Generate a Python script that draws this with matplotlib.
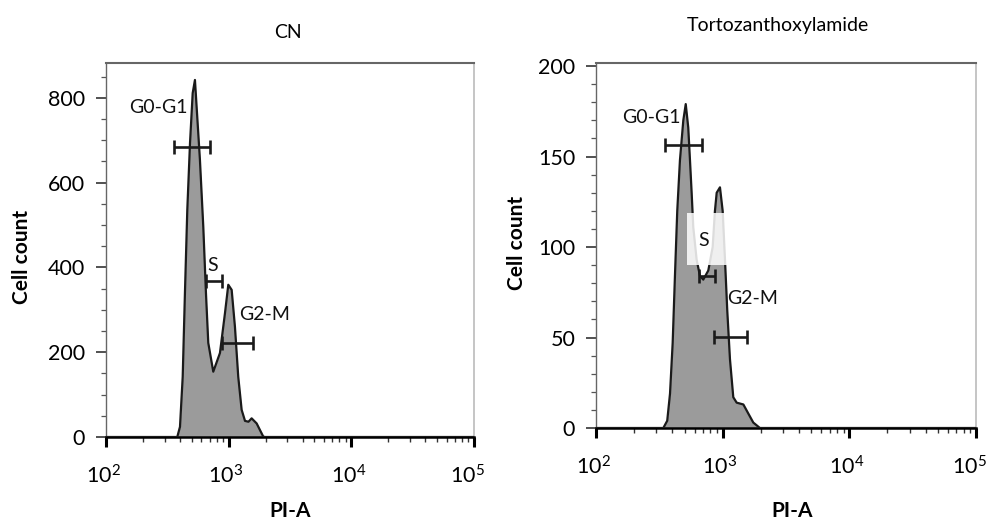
import matplotlib
matplotlib.use("Agg")
import matplotlib.pyplot as plt
from matplotlib.ticker import LogLocator, LogFormatterSciNotation, MultipleLocator, NullFormatter
from matplotlib.transforms import ScaledTranslation

plt.rcParams['font.family'] = ['Lato', 'DejaVu Sans']
plt.rcParams['mathtext.fontset'] = 'custom'
plt.rcParams['mathtext.rm'] = 'Lato'
plt.rcParams['mathtext.it'] = 'Lato:italic'
plt.rcParams['mathtext.bf'] = 'Lato:bold'

# ---------------- data ----------------
titles = ["CN", "Tortozanthoxylamide"]
x_label = "PI-A"
y_label = "Cell count"

# Control (CN) histogram
cn_pi = [100, 381, 401, 422, 440, 460, 484, 509, 531, 583, 621, 653, 682, 749,
         849, 933, 993, 1058, 1125, 1197, 1276, 1359, 1450, 1539, 1691, 1914, 1977, 100000]
cn_count = [0, 0, 24, 142, 339, 536, 693, 811, 842, 654, 496, 339, 222, 154,
            198, 292, 359, 347, 260, 142, 64, 38, 36, 44, 32, 1, 0, 0]

# Treated histogram
tz_pi = [100, 340, 365, 384, 403, 420, 438, 460, 489, 511, 535, 552, 569, 586, 623,
         662, 703, 770, 834, 869, 897, 952, 1000, 1043, 1087, 1142, 1213, 1290,
         1457, 1594, 1745, 1968, 100000]
tz_count = [0, 0, 4, 19, 47, 84, 120, 148, 170, 179, 166, 148, 130, 111, 93,
            84, 82, 87, 100, 120, 130, 133, 120, 93, 65, 38, 17, 14,
            13, 8, 3, 0, 0]

gate_names = ["G0-G1", "S", "G2-M"]
# gate ranges (PI-A) and heights (count)
cn_gate_lo = [358, 653, 877]
cn_gate_hi = [705, 877, 1585]
cn_gate_y = [683, 368, 221]
cn_lab_x = [266, 745, 1977]
cn_lab_y = [776, 404, 290]

tz_gate_lo = [351, 653, 859]
tz_gate_hi = [690, 869, 1564]
tz_gate_y = [156.4, 84, 50.4]
tz_lab_x = [275, 703, 1726]
tz_lab_y = [171.6, 103.5, 71.7]

cn_yticks = [0, 200, 400, 600, 800]
tz_yticks = [0, 50, 100, 150, 200]

# ---------------- figure ----------------
fig = plt.figure(figsize=(9.87, 5.23), dpi=100)
axL = fig.add_axes([106/987, 1-437/523, 368/987, 374/523])
axR = fig.add_axes([596/987, 1-428/523, 380/987, 365/523])

fill_c = '#9b9b9b'
line_c = '#1a1a1a'


def style(ax, ymax, yticks, yminor):
    ax.set_xscale('log')
    ax.set_xlim(100, 100000)
    ax.set_ylim(0, ymax)
    ax.set_yticks(yticks)
    ax.yaxis.set_minor_locator(MultipleLocator(yminor))
    ax.xaxis.set_major_locator(LogLocator(base=10, numticks=10))
    ax.xaxis.set_major_formatter(LogFormatterSciNotation())
    ax.xaxis.set_minor_locator(LogLocator(base=10, subs=range(2, 10), numticks=20))
    ax.xaxis.set_minor_formatter(NullFormatter())
    ax.tick_params(axis='y', which='major', length=7, width=1.2, color='#333333',
                   labelsize=15.5, pad=8)
    ax.tick_params(axis='y', which='minor', length=3.5, width=0.9, color='#555555')
    ax.tick_params(axis='x', which='major', length=7.5, width=2.2, color='black',
                   labelsize=15.5, pad=12)
    ax.tick_params(axis='x', which='minor', length=3.5, width=1.0, color='#333333')
    ax.spines['bottom'].set_color('black')
    ax.spines['bottom'].set_linewidth(1.8)
    ax.spines['top'].set_color('#666666')
    ax.spines['top'].set_linewidth(1.5)
    ax.spines['left'].set_color('#666666')
    ax.spines['left'].set_linewidth(1.0)
    ax.spines['right'].set_color('#bbbbbb')
    ax.spines['right'].set_linewidth(1.2)


def gates(ax, lo, hi, yv, lx, ly, names):
    for a, b, y in zip(lo, hi, yv):
        ax.plot([a, b], [y, y], color=line_c, lw=1.9, solid_capstyle='butt', zorder=5)
        ax.plot([a, b], [y, y], ls='none', marker='|', markersize=10,
                markeredgewidth=1.9, color=line_c, zorder=5)
    for x, y, n in zip(lx, ly, names):
        ax.text(x, y, n, ha='center', va='center', fontsize=14, color='#111111', zorder=6)


# Left panel
axL.fill_between(cn_pi, cn_count, 0, color=fill_c, lw=0, zorder=2)
axL.plot(cn_pi, cn_count, color=line_c, lw=1.6, zorder=3)
style(axL, 882, cn_yticks, 50)
gates(axL, cn_gate_lo, cn_gate_hi, cn_gate_y, cn_lab_x, cn_lab_y, gate_names)

# Right panel
axR.fill_between(tz_pi, tz_count, 0, color=fill_c, lw=0, zorder=2)
axR.plot(tz_pi, tz_count, color=line_c, lw=1.6, zorder=3)
style(axR, 201.7, tz_yticks, 10)
# white label box over the S gate
axR.fill_between([520, 1074], [90, 90], [118.6, 118.6], color='white', alpha=0.85,
                 lw=0, zorder=4)
gates(axR, tz_gate_lo, tz_gate_hi, tz_gate_y, tz_lab_x, tz_lab_y, gate_names)

# nudge x tick labels slightly left (as in the reference)
fig.canvas.draw()
for ax in (axL, axR):
    for tick in ax.xaxis.get_major_ticks():
        loc = tick.get_loc()
        dx = -7 if loc > 50000 else -3
        tick.label1.set_transform(tick.label1.get_transform() +
                                  ScaledTranslation(dx/100, 0, fig.dpi_scale_trans))

# titles and axis labels
fig.text(288/987, 1-32/523, titles[0], ha='center', va='center', fontsize=14)
fig.text(778/987, 1-25/523, titles[1], ha='center', va='center', fontsize=14)
fig.text(22/987, 1-257/523, y_label, ha='center', va='center', rotation=90,
         fontsize=15, fontweight='bold')
fig.text(517/987, 1-243/523, y_label, ha='center', va='center', rotation=90,
         fontsize=15, fontweight='bold')
fig.text(290/987, 1-511/523, x_label, ha='center', va='center', fontsize=15,
         fontweight='bold')
fig.text(792/987, 1-511/523, x_label, ha='center', va='center', fontsize=15,
         fontweight='bold')

fig.savefig('out.png', dpi=100)
